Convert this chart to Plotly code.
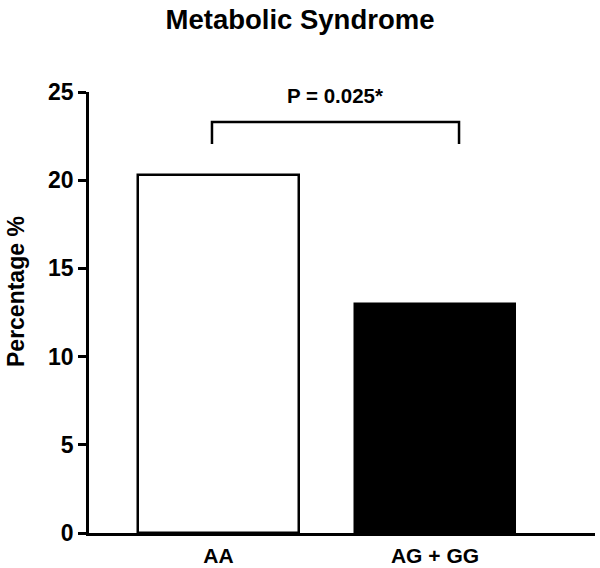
import plotly.graph_objects as go

categories = ["AA", "AG + GG"]
percentages = [20.3, 13.0]
y_tick_values = [0, 5, 10, 15, 20, 25]
y_tick_labels = ["0", "5", "10", "15", "20", "25"]
p_label = "P = 0.025*"

FONT = "Arial, Liberation Sans, Helvetica, sans-serif"

W, H = 600, 568
L, R, T, B = 89, 5, 92, 35
PW = W - L - R
PH = H - T - B

fig = go.Figure()
fig.add_trace(go.Bar(
    x=categories,
    y=percentages,
    width=0.74,
    marker=dict(color=["white", "black"], line=dict(color="black", width=2.5)),
    showlegend=False,
))

# significance bracket
fig.add_shape(type="path",
              path="M -0.03,22.05 L -0.03,23.3 L 1.111,23.3 L 1.111,22.05",
              xref="x", yref="y", line=dict(color="black", width=2.5))
fig.add_annotation(x=0.54, y=24.78, xref="x", yref="y", text="<b>%s</b>" % p_label,
                   showarrow=False, font=dict(family=FONT, size=20.5, color="black"),
                   xanchor="center", yanchor="middle")

# y-axis title
fig.add_annotation(x=(16 - L) / PW, y=(H - B - 292) / PH, xref="paper", yref="paper",
                   text="<b>Percentage %</b>", textangle=-90, showarrow=False,
                   font=dict(family=FONT, size=23, color="black"),
                   xanchor="center", yanchor="middle")

fig.update_layout(
    width=W, height=H,
    margin=dict(l=L, r=R, t=T, b=B),
    paper_bgcolor="white", plot_bgcolor="white",
    title=dict(text="<b>Metabolic Syndrome</b>", x=0.5, xanchor="center",
               y=1 - 19 / H, yanchor="middle", yref="container",
               font=dict(family=FONT, size=27.5, color="black")),
    font=dict(family=FONT, color="black"),
    bargap=0,
)
fig.update_xaxes(
    range=[-0.598, 1.739], showgrid=False, zeroline=False, automargin=False,
    showline=True, linecolor="black", linewidth=2.5,
    ticks="", tickfont=dict(family=FONT, size=21, color="black"),
    ticklabelstandoff=2,
    tickvals=[0, 1], ticktext=["<b>AA</b>", "<b>AG + GG</b>"],
)
fig.update_yaxes(
    range=[0, 25], showgrid=False, zeroline=False, automargin=False,
    showline=True, linecolor="black", linewidth=2.5,
    ticks="outside", ticklen=8, tickwidth=2.5, tickcolor="black",
    tickvals=y_tick_values, ticktext=["<b>%s</b>" % t for t in y_tick_labels],
    tickfont=dict(family=FONT, size=23, color="black"),
)

# remove the browser's default page margin so the figure fills the window
fig.write_html("out.html", config={"displayModeBar": False},
               post_script="document.body.style.margin='0px';")
